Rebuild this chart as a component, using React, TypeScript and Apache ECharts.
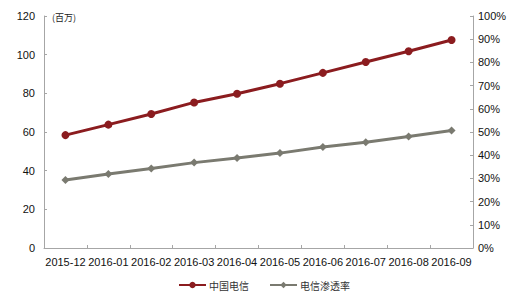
import React, { useEffect, useRef } from "react";
import * as echarts from "echarts";

const categories = ["2015-12", "2016-01", "2016-02", "2016-03", "2016-04", "2016-05", "2016-06", "2016-07", "2016-08", "2016-09"];
const telecomUsers = [58.4, 63.8, 69.3, 75.3, 79.8, 85.0, 90.6, 96.2, 101.8, 107.6];
const penetrationRate = [0.293, 0.319, 0.343, 0.368, 0.388, 0.409, 0.435, 0.456, 0.481, 0.506];
const leftTicks = { min: 0, max: 120, interval: 20 };
const rightTicks = { min: 0, max: 1, interval: 0.1 };
const seriesNames = ["中国电信", "电信渗透率"];
const unitLabel = "(百万)";

export default function App() {
  const ref = useRef<HTMLDivElement>(null);
  useEffect(() => {
    if (!ref.current) return;
    const chart = echarts.init(ref.current, undefined, { renderer: "svg" });
    const axisLine = { show: true, lineStyle: { color: "#a6a6a6", width: 1 } };
    const labelFont = { fontFamily: "Liberation Sans, Arial, sans-serif", fontSize: 11, color: "#111" };
    chart.setOption({
      animation: false,
      backgroundColor: "#fff",
      grid: { left: 44, right: 37, top: 16, bottom: 45 },
      legend: {
        left: 178,
        top: 279,
        padding: 0,
        itemWidth: 27,
        itemHeight: 8,
        itemGap: 20,
        textStyle: { fontFamily: "Noto Sans CJK SC", fontSize: 10, lineHeight: 12, color: "#333", padding: [0, 0, 0, -2] },
        data: seriesNames,
      },
      graphic: [
        {
          type: "text",
          left: 52,
          top: 13,
          style: { text: unitLabel, fontFamily: "Noto Sans CJK SC", fontSize: 9, fill: "#222" },
        },
      ],
      xAxis: {
        type: "category",
        data: categories,
        boundaryGap: true,
        axisLine,
        axisTick: { show: true, inside: true, length: 3, lineStyle: { color: "#a6a6a6" } },
        axisLabel: { ...labelFont, margin: 8, interval: 0 },
      },
      yAxis: [
        {
          type: "value",
          ...leftTicks,
          axisLine,
          axisTick: { show: true, inside: true, length: 3, lineStyle: { color: "#a6a6a6" } },
          splitLine: { show: false },
          axisLabel: { ...labelFont, margin: 9 },
        },
        {
          type: "value",
          ...rightTicks,
          position: "right",
          axisLine,
          axisTick: { show: true, inside: true, length: 3, lineStyle: { color: "#a6a6a6" } },
          splitLine: { show: false },
          axisLabel: { ...labelFont, margin: 5, formatter: (v: number) => Math.round(v * 100) + "%" },
        },
      ],
      series: [
        {
          name: seriesNames[0],
          type: "line",
          data: telecomUsers,
          yAxisIndex: 0,
          symbol: "circle",
          symbolSize: 8,
          lineStyle: { color: "#8b1c1f", width: 3 },
          itemStyle: { color: "#8b1c1f" },
        },
        {
          name: seriesNames[1],
          type: "line",
          data: penetrationRate,
          yAxisIndex: 1,
          symbol: "diamond",
          symbolSize: 8,
          lineStyle: { color: "#7a7a70", width: 3 },
          itemStyle: { color: "#7a7a70" },
        },
      ],
    });
    return () => chart.dispose();
  }, []);
  return <div ref={ref} style={{ width: 510, height: 293, position: "absolute", left: 0, top: 0 }} />;
}
